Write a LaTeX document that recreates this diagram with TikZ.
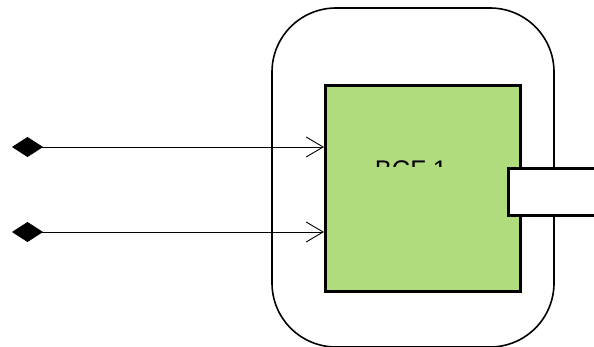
\documentclass[tikz,border=0pt]{standalone}
\usepackage{fontspec}
\setmainfont{Liberation Sans}
\usetikzlibrary{arrows.meta}
\definecolor{blockgreen}{RGB}{176,220,126}
\begin{document}
\begin{tikzpicture}[x=1pt,y=-1pt,line cap=round,line join=round,
 block/.style={draw,line width=2.8pt,line cap=rect,line join=miter},
 wire/.style={line width=.8pt,{Diamond[length=31pt,width=20pt]}-{Straight Barb[length=17pt,width=20pt,line width=.9pt]}}]
 \useasboundingbox (0,0) rectangle (594,347);
 \clip (0,0) rectangle (594,347);
 \draw[line width=1.6pt,rounded corners=64pt] (272,8) rectangle (554,347);
 \node[block,fill=blockgreen,minimum width=195pt,minimum height=206pt,inner sep=0pt,anchor=north west] (bcf) at (324,84) {};
 \node[block,fill=white,minimum width=110pt,minimum height=47pt,inner sep=0pt,anchor=north west] (port) at (507,167) {};
 \begin{scope}
  \clip (330,150) rectangle (505,167);
  \node[font=\fontsize{25.5}{30}\selectfont,anchor=north,inner sep=0pt] (bcflabel) at (411,160) {BCF 1};
 \end{scope}
 \foreach \name/\height in {ina/147,inb/232}{
  \coordinate (\name) at (12,\height);
  \draw[wire] (\name) -- (bcf.west |- \name);
 }
\end{tikzpicture}
\end{document}
